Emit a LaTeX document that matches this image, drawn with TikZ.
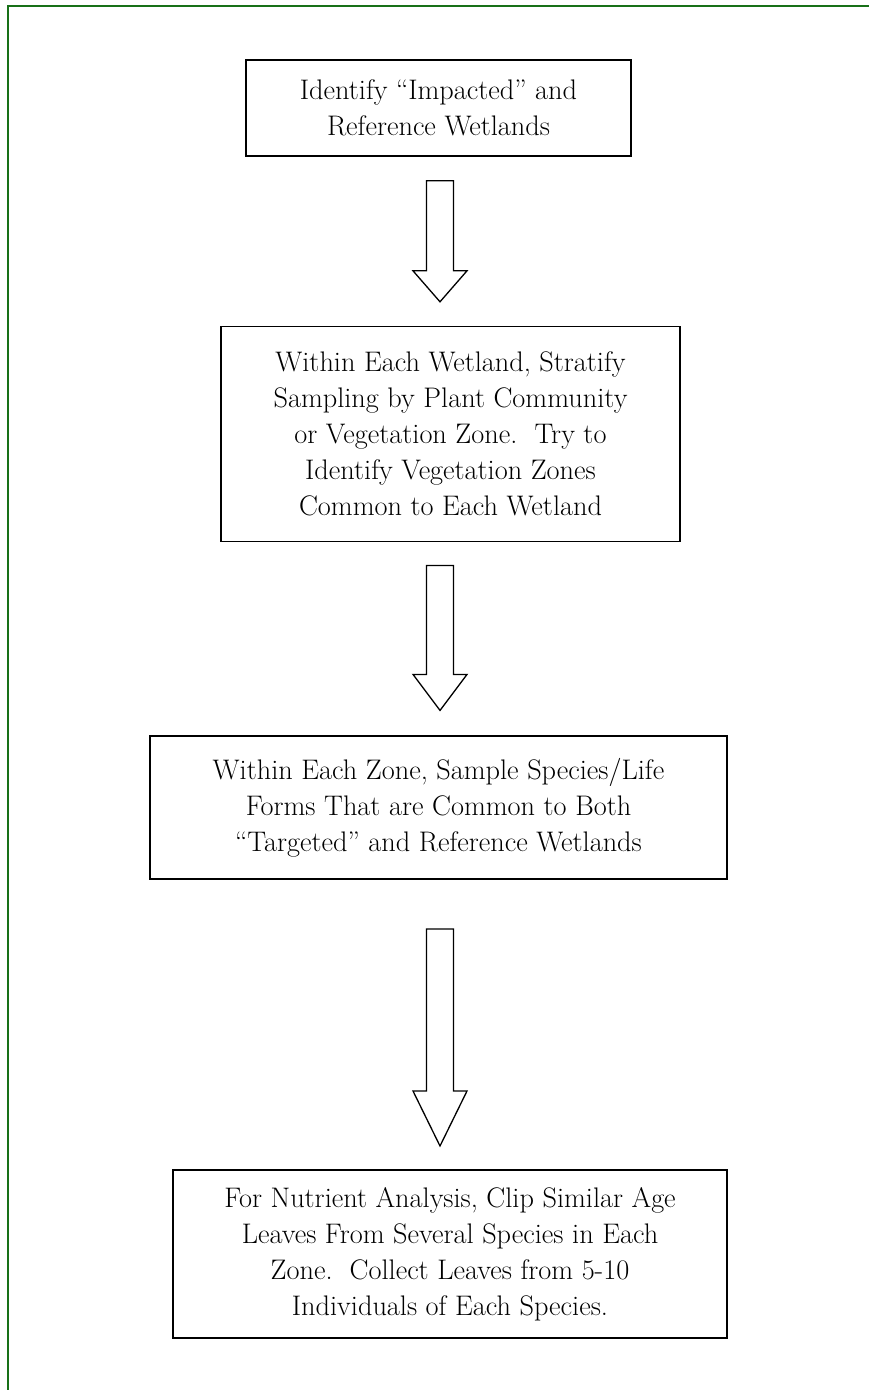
\documentclass[tikz,border=0pt]{standalone}
\usepackage{fontspec}
\usetikzlibrary{positioning,calc}

\definecolor{framegreen}{RGB}{24,112,24}
\tikzset{
  stage/.style={draw, line width=1.6pt, align=center, inner sep=0pt,
    font=\fontsize{28.3}{36}\selectfont},
  hollow/.style={draw, line width=1.3pt, line join=miter, fill=white},
}
% hollow block arrow between two stages: from, to, top gap, bottom gap, head length
\newcommand{\blockarrow}[5]{%
  \draw[hollow] let \p0=(spine), \p1=(#1.south), \p2=(#2.north) in
    (\x0-13.5pt,\y1-#3pt) -- (\x0-13.5pt,\y2+#4pt+#5pt) -- (\x0-27pt,\y2+#4pt+#5pt)
    -- (\x0,\y2+#4pt) -- (\x0+27pt,\y2+#4pt+#5pt) -- (\x0+13.5pt,\y2+#4pt+#5pt)
    -- (\x0+13.5pt,\y1-#3pt) -- cycle;}

\begin{document}
\begin{tikzpicture}[x=1pt,y=1pt]
    \useasboundingbox (0,0) rectangle (868,-1390);
    \draw[framegreen, line width=2pt] (8,-1400) -- (8,-6) -- (880,-6);
    \coordinate (spine) at (440,0);

    \node[stage, minimum width=385pt, minimum height=96pt] (identify) at (438.5,-108)
        {Identify “Impacted” and\\ Reference Wetlands};
    \node[stage, minimum width=459pt, minimum height=215pt, below=169pt of identify, xshift=12pt] (stratify)
        {Within Each Wetland, Stratify\\ Sampling by Plant Community\\
         or Vegetation Zone.\ \ Try to\\ Identify Vegetation Zones\\ Common to Each Wetland};
    \node[stage, minimum width=577pt, minimum height=143pt, below=193pt of stratify, xshift=-12pt] (sample)
        {Within Each Zone, Sample Species/Life\\ Forms That are Common to Both\\
         “Targeted” and Reference Wetlands};
    \node[stage, minimum width=554pt, minimum height=168pt, below=289pt of sample, xshift=11.5pt] (clip)
        {For Nutrient Analysis, Clip Similar Age\\ Leaves From Several Species in Each\\
         Zone.\ \ Collect Leaves from 5-10\\ Individuals of Each Species.};

    \blockarrow{identify}{stratify}{24}{24}{31}
    \blockarrow{stratify}{sample}{23}{25}{36}
    \blockarrow{sample}{clip}{49}{23}{55}
\end{tikzpicture}
\end{document}
